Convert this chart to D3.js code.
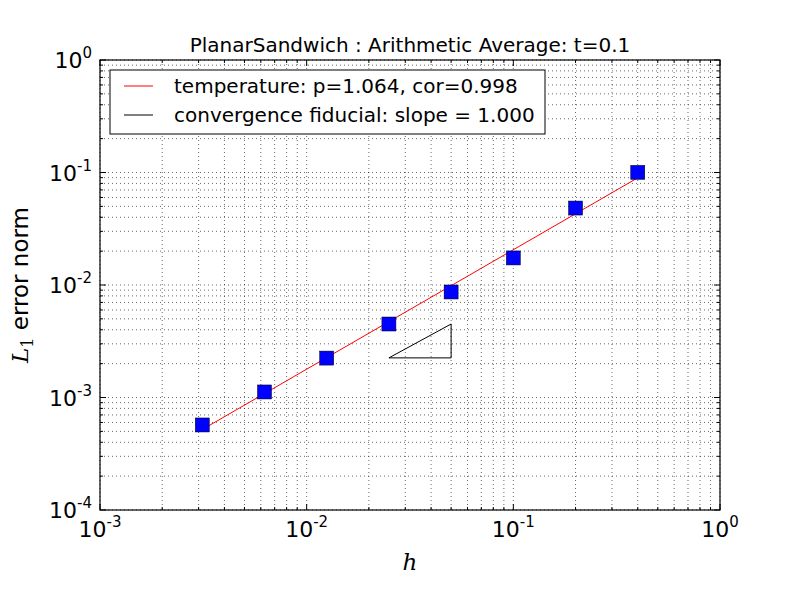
<!DOCTYPE html>
<html>
<head>
<meta charset="utf-8">
<script src="https://cdn.jsdelivr.net/npm/d3@7"></script>
<style>
  body { margin: 0; background: #fff; }
  text { font-family: "DejaVu Sans", sans-serif; }
</style>
</head>
<body>
<div id="chart"></div>
<script>
// grid spacing h and measured L1 error
const hValues = [0.4, 0.2, 0.1, 0.05, 0.025, 0.0125, 0.00625, 0.003125];
const errValues = [0.1003, 0.0483, 0.0174, 0.00867, 0.0045, 0.00224, 0.00112, 0.00057];
// slope-1 reference triangle
const fidX = [0.025, 0.05, 0.05, 0.025];
const fidY = [0.00225, 0.00225, 0.0045, 0.00225];
const xDecades = [-3, -2, -1, 0];
const yDecades = [-4, -3, -2, -1, 0];
const titleText = "PlanarSandwich : Arithmetic Average: t=0.1";
const legendLabels = ["temperature: p=1.064, cor=0.998", "convergence fiducial: slope = 1.000"];

const W = 800, H = 600;
const margin = {top: 60, right: 80, bottom: 90, left: 100};
const width = W - margin.left - margin.right;
const height = H - margin.top - margin.bottom;

const svg = d3.select("#chart").append("svg")
    .attr("width", W)
    .attr("height", H);
const g = svg.append("g")
    .attr("transform", `translate(${margin.left}, ${margin.top})`);

const x = d3.scaleLog().domain([1e-3, 1]).range([0, width]);
const y = d3.scaleLog().domain([1e-4, 1]).range([height, 0]);

// all decade ticks, major + minor
function logTicks(decs) {
    let major = [], minor = [];
    for (let i = 0; i < decs.length; i++) {
        let p = Math.pow(10, decs[i]);
        major.push(p);
        if (i < decs.length - 1) {
            for (let k = 2; k <= 9; k++) minor.push(k * p);
        }
    }
    return {major, minor};
}
const xt = logTicks(xDecades);
const yt = logTicks(yDecades);

// dotted grid at every tick
const grid = g.append("g").attr("class", "grid");
xt.major.concat(xt.minor).forEach(v => {
    grid.append("line")
        .attr("x1", x(v)).attr("x2", x(v))
        .attr("y1", 0).attr("y2", height)
        .style("stroke", "#000").style("stroke-width", 0.6)
        .style("stroke-dasharray", "1,3");
});
yt.major.concat(yt.minor).forEach(v => {
    grid.append("line")
        .attr("x1", 0).attr("x2", width)
        .attr("y1", y(v)).attr("y2", y(v))
        .style("stroke", "#000").style("stroke-width", 0.6)
        .style("stroke-dasharray", "1,3");
});

// ticks pointing inward on all four sides
const tickG = g.append("g");
function xTick(v, len) {
    tickG.append("line").attr("x1", x(v)).attr("x2", x(v)).attr("y1", height).attr("y2", height - len).style("stroke", "#000");
    tickG.append("line").attr("x1", x(v)).attr("x2", x(v)).attr("y1", 0).attr("y2", len).style("stroke", "#000");
}
function yTick(v, len) {
    tickG.append("line").attr("x1", 0).attr("x2", len).attr("y1", y(v)).attr("y2", y(v)).style("stroke", "#000");
    tickG.append("line").attr("x1", width).attr("x2", width - len).attr("y1", y(v)).attr("y2", y(v)).style("stroke", "#000");
}
xt.major.forEach(v => xTick(v, 6));
xt.minor.forEach(v => xTick(v, 3));
yt.major.forEach(v => yTick(v, 6));
yt.minor.forEach(v => yTick(v, 3));

// tick labels 10^n
function powLabel(sel, n) {
    sel.append("tspan").text("10");
    sel.append("tspan").attr("dy", -10).style("font-size", "15px").text(n);
}
xDecades.forEach(d => {
    let t = g.append("text")
        .attr("x", x(Math.pow(10, d)))
        .attr("y", height + 27)
        .attr("text-anchor", "middle")
        .style("font-size", "22px");
    powLabel(t, d);
});
yDecades.forEach(d => {
    let t = g.append("text")
        .attr("x", -8)
        .attr("y", y(Math.pow(10, d)) + 8)
        .attr("text-anchor", "end")
        .style("font-size", "22px");
    powLabel(t, d);
});

// least-squares fit in log space
const lx = hValues.map(Math.log10), ly = errValues.map(Math.log10);
const mx = d3.mean(lx), my = d3.mean(ly);
const slope = d3.sum(lx, (v, i) => (v - mx) * (ly[i] - my)) / d3.sum(lx, v => (v - mx) * (v - mx));
const icpt = my - slope * mx;
const fitData = [d3.min(hValues), d3.max(hValues)].map(h => ({h: h, e: Math.pow(10, icpt + slope * Math.log10(h))}));

g.append("path")
    .datum(fitData)
    .attr("fill", "none")
    .attr("stroke", "#ff0000")
    .attr("stroke-width", 1)
    .attr("d", d3.line().x(d => x(d.h)).y(d => y(d.e)));

g.append("path")
    .datum(fidX.map((v, i) => [v, fidY[i]]))
    .attr("fill", "none")
    .attr("stroke", "#000")
    .attr("stroke-width", 1)
    .attr("d", d3.line().x(d => x(d[0])).y(d => y(d[1])));

const ms = 14;
g.selectAll(".pt")
    .data(hValues.map((h, i) => ({h: h, e: errValues[i]})))
    .enter().append("rect")
    .attr("x", d => x(d.h) - ms / 2)
    .attr("y", d => y(d.e) - ms / 2)
    .attr("width", ms).attr("height", ms)
    .style("fill", "#0000ff")
    .style("stroke", "#000")
    .style("stroke-width", 0.5);

// frame
g.append("rect")
    .attr("width", width).attr("height", height)
    .style("fill", "none").style("stroke", "#000").style("stroke-width", 1.2);

// legend
const leg = g.append("g").attr("transform", "translate(10, 10)");
leg.append("rect")
    .attr("width", 435).attr("height", 64)
    .style("fill", "#fff").style("stroke", "#000").style("stroke-width", 1);
["#ff0000", "#000"].forEach((c, i) => {
    leg.append("line")
        .attr("x1", 14).attr("x2", 43)
        .attr("y1", 16 + i * 29).attr("y2", 16 + i * 29)
        .style("stroke", c);
    leg.append("text")
        .attr("x", 64).attr("y", 23 + i * 29)
        .style("font-size", "20px")
        .text(legendLabels[i]);
});

// title and axis labels
svg.append("text")
    .attr("x", margin.left + width / 2).attr("y", 52)
    .attr("text-anchor", "middle")
    .style("font-size", "20px")
    .text(titleText);

svg.append("text")
    .attr("x", 410).attr("y", 570)
    .attr("text-anchor", "middle")
    .style("font-family", "DejaVu Serif").style("font-style", "italic")
    .style("font-size", "23px")
    .text("h");

const yl = svg.append("text")
    .attr("transform", `translate(28, ${margin.top + height / 2}) rotate(-90)`)
    .attr("text-anchor", "middle")
    .style("font-size", "23px");
yl.append("tspan").style("font-family", "DejaVu Serif").style("font-style", "italic").text("L");
yl.append("tspan").attr("dy", 5).style("font-family", "DejaVu Serif").style("font-size", "16px").text("1");
yl.append("tspan").attr("dy", -5).text(" error norm");
</script>
</body>
</html>
